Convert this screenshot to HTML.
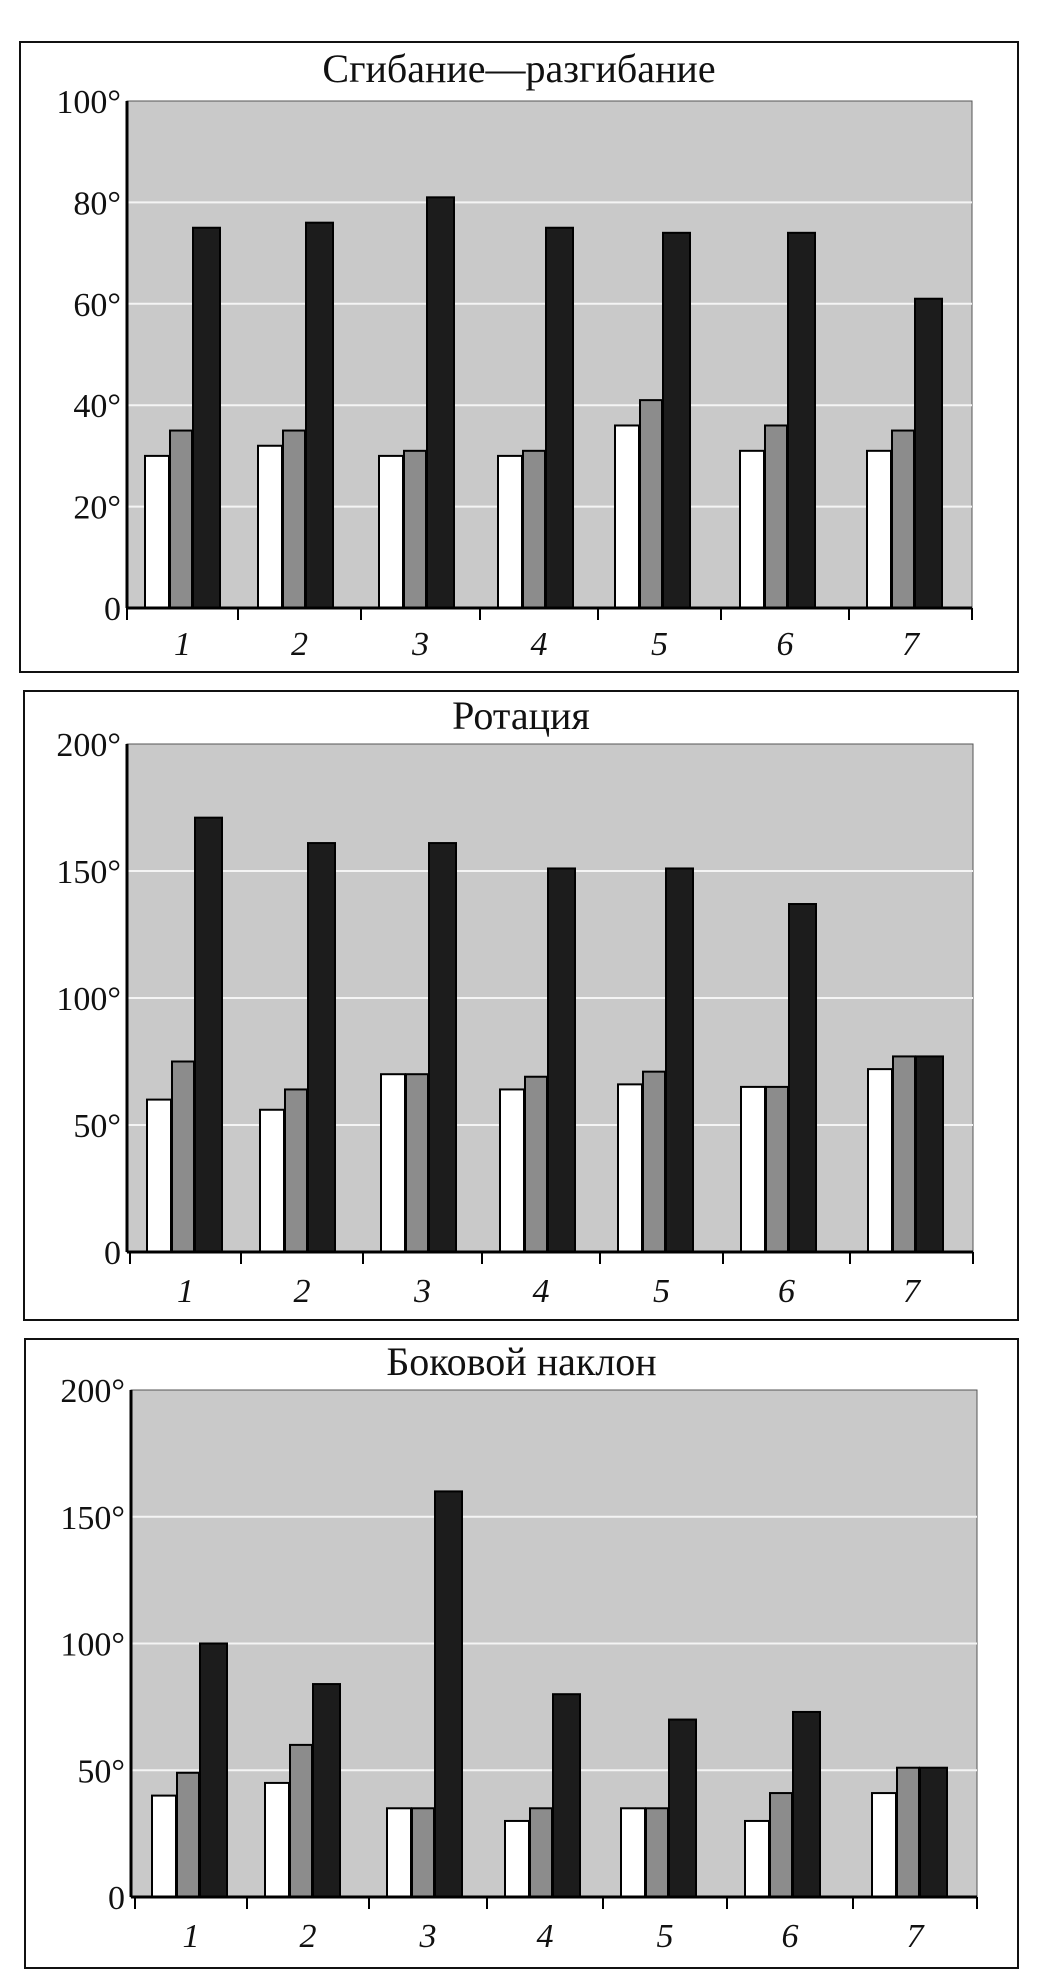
<!DOCTYPE html>
<html><head><meta charset="utf-8"><style>
body{margin:0;background:#fff;width:1037px;height:1981px;overflow:hidden}
svg{display:block}
text{font-family:"Liberation Serif",serif;fill:#111}
</style></head><body>
<svg id="s" width="1037" height="1981" viewBox="0 0 1037 1981" xmlns="http://www.w3.org/2000/svg"></svg>
<script>
const charts=[
 {box:[20,42,1018,672],title:"Сгибание—разгибание",ty:80,top:101,bot:608,left:127,right:972,max:100,step:20,
  ticks:[127,238,361,480,598,721,849,972],starts:[145,258,379,498,615,740,867],ly:655,
  w:[30,32,30,30,36,31,31],g:[35,35,31,31,41,36,35],b:[75,76,81,75,74,74,61]},
 {box:[24,691,1018,1320],title:"Ротация",ty:727,top:744,bot:1252,left:127,right:973,max:200,step:50,
  ticks:[130,241,363,482,600,723,850,973],starts:[147,260,381,500,618,741,868],ly:1302,
  w:[60,56,70,64,66,65,72],g:[75,64,70,69,71,65,77],b:[171,161,161,151,151,137,77]},
 {box:[25,1339,1018,1968],title:"Боковой наклон",ty:1373,top:1390,bot:1897,left:131,right:977,max:200,step:50,
  ticks:[135,247,369,487,603,727,853,977],starts:[152,265,387,505,621,745,872],ly:1947,
  w:[40,45,35,30,35,30,41],g:[49,60,35,35,35,41,51],b:[100,84,160,80,70,73,51]}
];
let h='';
for(const c of charts){
 const [x1,y1,x2,y2]=c.box;
 h+=`<rect x="${x1}" y="${y1}" width="${x2-x1}" height="${y2-y1}" fill="#fff" stroke="#111" stroke-width="2"/>`;
 h+=`<text x="${(x1+x2)/2}" y="${c.ty+2}" font-size="40" text-anchor="middle">${c.title}</text>`;
 h+=`<rect x="${c.left}" y="${c.top}" width="${c.right-c.left}" height="${c.bot-c.top}" fill="#c9c9c9" stroke="#555" stroke-width="1"/>`;
 const Y=v=>c.bot-(c.bot-c.top)*v/c.max;
 for(let v=0;v<=c.max;v+=c.step){
  const y=Y(v);
  if(v>0&&v<c.max)h+=`<line x1="${c.left}" y1="${y}" x2="${c.right}" y2="${y}" stroke="#f4f4f4" stroke-width="2"/>`;
  h+=`<text x="${c.left-6}" y="${y+12}" font-size="34" text-anchor="end">${v}${v?'°':''}</text>`;
 }
 c.starts.forEach((s,i)=>{
  const bars=[[s,24,c.w[i],'#fff'],[s+25,22,c.g[i],'#8c8c8c'],[s+48,27,c.b[i],'#1c1c1c']];
  for(const [x,w,v,f] of bars){const y=Y(v);h+=`<rect x="${x}" y="${y}" width="${w}" height="${c.bot-y}" fill="${f}" stroke="#000" stroke-width="2"/>`;}
  h+=`<text x="${(c.ticks[i]+c.ticks[i+1])/2}" y="${c.ly}" font-size="34" font-style="italic" text-anchor="middle">${i+1}</text>`;
 });
 h+=`<line x1="${c.left}" y1="${c.top}" x2="${c.left}" y2="${c.bot}" stroke="#000" stroke-width="3"/>`;
 h+=`<line x1="${c.left}" y1="${c.bot}" x2="${c.right}" y2="${c.bot}" stroke="#000" stroke-width="3"/>`;
 for(const t of c.ticks)h+=`<line x1="${t}" y1="${c.bot}" x2="${t}" y2="${c.bot+12}" stroke="#000" stroke-width="2"/>`;
}
document.getElementById('s').innerHTML=h;
</script>
</body></html>
